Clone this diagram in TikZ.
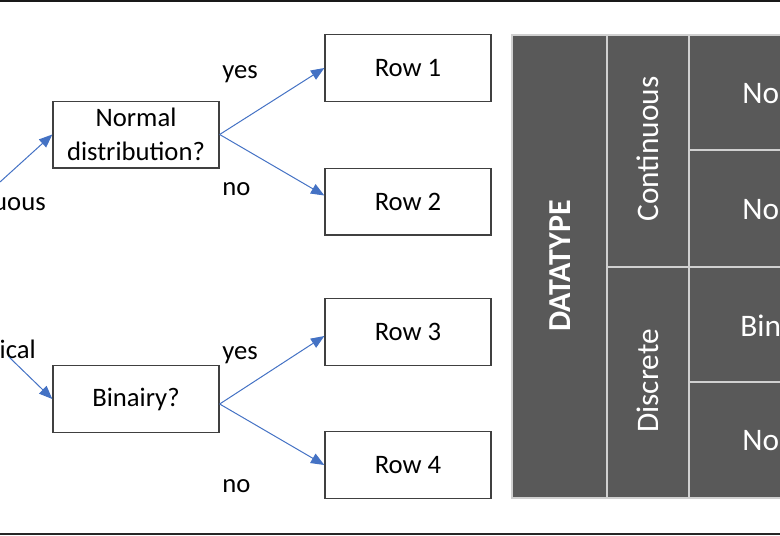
\documentclass[tikz,border=0pt]{standalone}
\usepackage{fontspec}
\setmainfont{Carlito}
\usetikzlibrary{arrows.meta}
\definecolor{arrowblue}{HTML}{4472C4}
\definecolor{boxgray}{HTML}{404040}
\definecolor{tablegray}{HTML}{595959}
\definecolor{tableline}{HTML}{D0D0D0}
\tikzset{
  box/.style={draw=boxgray, line width=1pt, minimum width=124.5pt, minimum height=50pt, align=center, font=\fontsize{20}{25}\selectfont},
  flow/.style={-{Triangle[length=10pt,width=8pt]}, draw=arrowblue, line width=0.75pt},
  lbl/.style={anchor=base west, inner sep=0pt, font=\fontsize{20}{25}\selectfont},
  cell/.style={text=white, inner sep=0pt, font=\fontsize{23.5}{28}\selectfont},
  grid/.style={draw=tableline, line width=0.8pt}
}

\begin{document}
\begin{tikzpicture}[x=0.75pt,y=-0.75pt]
                \useasboundingbox (0,0) rectangle (780,535);
                \clip (0,0) rectangle (780,535);

                % frame lines
                \draw[line width=1.2pt,black!90] (0,0.8)--(780,0.8);
                \draw[line width=1.5pt,black!85] (0,533.6)--(780,533.6);

                % decision tree
                \node[box] (normal) at (136,134.5) {Normal\\distribution?};
                \node[box] (binairy) at (136,399) {Binairy?};
                \node[box] (row1) at (408,68) {Row 1};
                \node[box] (row2) at (408,201.5) {Row 2};
                \node[box] (row3) at (408,332) {Row 3};
                \node[box] (row4) at (408,465) {Row 4};

                \node[lbl,anchor=base east] (cont) at (46,210) {uous};
                \node[lbl,anchor=base east] (cat) at (36,358) {ical};
                \coordinate (contin) at (0,182);
                \coordinate (categ) at (9,357);

                \draw[flow] (contin)--(normal.west);
                \draw[flow] (categ)--(binairy.west);
                \draw[flow] (normal.east)--(row1.west);
                \draw[flow] (normal.east)--([yshift=4.5pt]row2.west);
                \draw[flow] ([yshift=-3.75pt]binairy.east)--([yshift=-3pt]row3.west);
                \draw[flow] ([yshift=-3.75pt]binairy.east)--(row4.west);

                \node[lbl] (yes1) at (222,78) {yes};
                \node[lbl] (no1) at (222,195) {no};
                \node[lbl] (yes2) at (222,359) {yes};
                \node[lbl] (no2) at (222,492) {no};

                % datatype table
                \fill[tablegray] (512,35) rectangle (790,498);
                \draw[grid] (512,35) rectangle (790,498);
                \draw[grid] (607,35)--(607,498);
                \draw[grid] (689,35)--(689,498);
                \draw[grid] (689,150)--(790,150);
                \draw[grid] (607,267)--(790,267);
                \draw[grid] (689,382)--(790,382);

                \node[cell,rotate=90,font=\fontsize{24}{28}\selectfont\bfseries] (datatype) at (560,266) {DATATYPE};
                \node[cell,rotate=90] (continuous) at (648,149) {Continuous};
                \node[cell,rotate=90] (discrete) at (648,381) {Discrete};
                \node[cell,anchor=west] (c1) at (742,94) {No};
                \node[cell,anchor=west] (c2) at (742,210) {No};
                \node[cell,anchor=west] (c3) at (740,326) {Bin};
                \node[cell,anchor=west] (c4) at (742,441) {No};
            \end{tikzpicture}
\end{document}
